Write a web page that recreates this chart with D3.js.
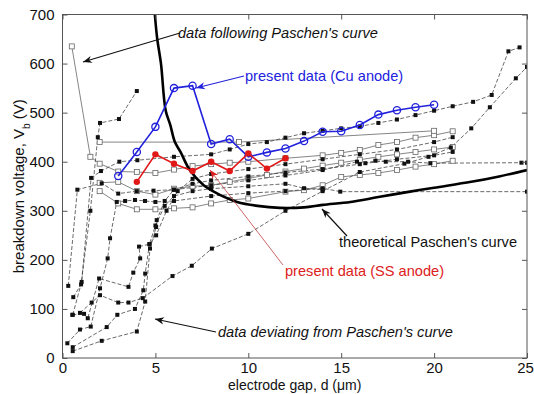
<!DOCTYPE html>
<html lang="en">
<head>
<meta charset="utf-8">
<title>Breakdown voltage</title>
<script src="https://cdn.jsdelivr.net/npm/d3@7/dist/d3.min.js"></script>
<style>
    body { margin: 0; background-color: #ffffff; }
    text { font-family: "Liberation Sans", Arial, sans-serif; }
</style>
</head>
<body>
<div id="chart_div"></div>
<script>
"use strict";

// present data, Cu anode
var cuGap = [3, 4, 5, 6, 7, 8, 9, 10, 11, 12, 13, 14, 15, 16, 17, 18, 19, 20];
var cuVolt = [371, 420, 471, 550, 555, 436, 446, 410, 419, 427, 442, 461, 462, 475, 496, 505, 511, 516];

// present data, SS anode
var ssGap = [4, 5, 6, 7, 8, 9, 10, 11, 12];
var ssVolt = [359, 415, 396, 381, 400, 381, 417, 386, 407];

// theoretical Paschen's curve
var paschGap = [4.97, 5.1, 5.3, 5.55, 5.8, 6.05, 6.35, 6.85, 7.6, 8.5, 9.4, 10.5, 11.7, 13.0, 14.0, 15.5, 17, 18.7, 20, 22, 23.5, 25];
var paschVolt = [700, 650, 600, 505, 475, 440, 420, 383, 352, 332, 318, 310, 306, 307, 312, 318, 328, 339, 347, 359, 370, 383];

// literature data, solid grey lines with open squares  [gap, voltage]
var lit1 = [[0.5,635],[1.5,410],[2,396],[3,380],[4,379],[5,377],[6,384],[7,391],[8,395],[9,398],[10,400],[12,407],[14,413],[15,418],[16,424],[17,434],[18,440],[19,449],[20,454],[21,462]];
var lit2 = [[2,440],[9.5,440],[20,463]];
var lit3 = [[2,340],[3,315],[4,303],[5,303],[6,305],[7,307],[8,315],[9,322],[10,325],[12,339],[13,342],[14,352],[15,369],[16,373],[17,377],[18,383],[19,390],[20,395],[21,402]];
var lit4 = [[2,357],[3,359],[4,340],[5,333],[6,345],[7,350],[8,352],[9,359],[10,366],[11,373],[12,380],[13,386],[14,392],[15,398],[16,404],[17,410],[18,415],[19,420],[20,425],[21,430]];

// literature data, dashed lines with filled squares
var lit5 = [[0.55,88],[1.03,155],[1.54,367],[2.07,381],[3.06,400],[4.03,403],[6,410],[8,415],[9,425],[10,436],[11,440],[12,449],[13,458],[14,463],[15,468],[16,472],[17,479],[18,486],[19,495],[20,504],[21,513],[22.1,522],[23.1,536],[24,625],[24.6,633]];
var lit6 = [[0.94,92],[1.57,113],[2.02,128],[3.0,113],[3.55,113],[4.32,122],[5.92,167],[6.96,188],[8.04,223],[10,253],[12,300],[14,340],[16,379],[18.4,396],[19.7,410],[20.9,429],[22,468],[23,511],[24.4,570],[25,593]];
var lit7 = [[0.31,147],[0.8,343],[2.11,356],[3.0,335],[4.0,340],[4.9,341],[6,343],[8,352],[10,362],[12,372],[14,383],[15.85,400],[16.3,397],[16.84,402],[17.4,400],[18.6,400],[19.8,397],[24.7,398],[25,398]];
var lit8 = [[0.26,30],[0.94,58],[1.52,64],[2.02,142],[2.43,203],[2.56,244],[2.92,318],[3.37,320],[3.9,322],[4.44,320],[5,318],[6,320],[8,330],[10,336],[12,340],[14,346],[14.95,339],[25,339]];
var lit9 = [[0.55,14],[2.11,35],[4.0,54],[4.45,115],[4.71,223],[5.04,267],[5.07,281],[5.5,320],[6,343],[7,355],[8,362],[10,370],[12,378],[14,385],[16,395],[18,405],[20,413],[21,420]];
var lit10 = [[0.55,22],[2.38,63],[2.95,88],[3.9,100],[4.35,138],[4.45,172],[4.68,232],[5.04,250],[5.6,300],[6.2,340],[7,365],[8,375],[10,385],[12,395],[14,405],[16,415],[18,425],[20,440],[21,450]];
var lit11 = [[0.53,88],[1.16,90],[1.36,81],[1.97,162],[3.55,145],[3.81,174],[4.18,203],[4.12,227],[4.68,232],[5.0,270],[5.5,310],[6,330],[7,340],[8,345],[10,350],[12,355],[13,346],[14,343]];
var lit12 = [[0.58,124],[1.0,150],[1.5,300],[1.9,450],[2.02,479],[3.04,487],[4.0,544]];

var solidSeries = [lit1, lit2, lit3, lit4];
var dashedSeries = [lit5, lit6, lit7, lit8, lit9, lit10, lit11, lit12];

var xTicks = [0, 5, 10, 15, 20, 25];
var yTicks = [0, 100, 200, 300, 400, 500, 600, 700];

var svg_width = 534;
var svg_height = 394;
var plotL = 62.5, plotR = 527, plotT = 14.5, plotB = 358;

var svg = d3.select("#chart_div")
    .append("svg")
    .attr("width", svg_width)
    .attr("height", svg_height);

var xscale = d3.scaleLinear().domain([0, 25]).range([plotL, plotR]);
var yscale = d3.scaleLinear().domain([0, 700]).range([plotB, plotT]);

svg.append("defs").append("clipPath")
    .attr("id", "plotclip")
    .append("rect")
    .attr("x", plotL).attr("y", plotT)
    .attr("width", plotR - plotL).attr("height", plotB - plotT);

function arrowHead(id, colour) {
    svg.select("defs").append("marker")
        .attr("id", id)
        .attr("viewBox", "0 0 10 10")
        .attr("refX", 10).attr("refY", 5)
        .attr("markerWidth", 13).attr("markerHeight", 9)
        .attr("markerUnits", "userSpaceOnUse")
        .attr("orient", "auto")
        .append("path")
        .attr("d", "M0,1 L10,5 L0,9 L3,5 Z")
        .attr("fill", colour);
}
arrowHead("arrBlack", "#111");
arrowHead("arrBlue", "#2222dd");
arrowHead("arrRed", "#dd2020");

var plot = svg.append("g").attr("clip-path", "url(#plotclip)");

var line = d3.line()
    .x(function(d) { return xscale(d[0]); })
    .y(function(d) { return yscale(d[1]); });

// literature, grey solid
solidSeries.forEach(function(s) {
    plot.append("path").datum(s)
        .attr("d", line)
        .attr("fill", "none")
        .attr("stroke", "#777")
        .attr("stroke-width", 0.9);
});
// literature, dashed
dashedSeries.forEach(function(s) {
    plot.append("path").datum(s)
        .attr("d", line)
        .attr("fill", "none")
        .attr("stroke", "#444")
        .attr("stroke-width", 0.8)
        .attr("stroke-dasharray", "4,2");
});
solidSeries.forEach(function(s) {
    plot.selectAll(null).data(s).enter()
        .append("rect")
        .attr("x", function(d) { return xscale(d[0]) - 2.5; })
        .attr("y", function(d) { return yscale(d[1]) - 2.5; })
        .attr("width", 5).attr("height", 5)
        .attr("fill", "#fff")
        .attr("stroke", "#666")
        .attr("stroke-width", 0.8);
});
dashedSeries.forEach(function(s) {
    plot.selectAll(null).data(s).enter()
        .append("rect")
        .attr("x", function(d) { return xscale(d[0]) - 2; })
        .attr("y", function(d) { return yscale(d[1]) - 2; })
        .attr("width", 4).attr("height", 4)
        .attr("fill", "#111");
});

// theoretical Paschen's curve
var pasch = paschGap.map(function(g, i) { return [g, paschVolt[i]]; });
var smooth = d3.line()
    .x(function(d) { return xscale(d[0]); })
    .y(function(d) { return yscale(d[1]); })
    .curve(d3.curveCatmullRom);
plot.append("path").datum(pasch)
    .attr("d", smooth)
    .attr("fill", "none")
    .attr("stroke", "#000")
    .attr("stroke-width", 2.6);

// present data
var cu = cuGap.map(function(g, i) { return [g, cuVolt[i]]; });
var ss = ssGap.map(function(g, i) { return [g, ssVolt[i]]; });

plot.append("path").datum(cu)
    .attr("d", line)
    .attr("fill", "none")
    .attr("stroke", "#2222dd")
    .attr("stroke-width", 1.6);
plot.selectAll(".cu").data(cu).enter()
    .append("circle")
    .attr("class", "cu")
    .attr("cx", function(d) { return xscale(d[0]); })
    .attr("cy", function(d) { return yscale(d[1]); })
    .attr("r", 3.6)
    .attr("fill", "none")
    .attr("stroke", "#2222dd")
    .attr("stroke-width", 1.3);

plot.append("path").datum(ss)
    .attr("d", line)
    .attr("fill", "none")
    .attr("stroke", "#e01818")
    .attr("stroke-width", 1.6);
plot.selectAll(".ss").data(ss).enter()
    .append("circle")
    .attr("class", "ss")
    .attr("cx", function(d) { return xscale(d[0]); })
    .attr("cy", function(d) { return yscale(d[1]); })
    .attr("r", 3.2)
    .attr("fill", "#e01818");

// axes box with inward ticks on all sides
svg.append("rect")
    .attr("x", plotL).attr("y", plotT)
    .attr("width", plotR - plotL).attr("height", plotB - plotT)
    .attr("fill", "none")
    .attr("stroke", "#555")
    .attr("stroke-width", 1);

var xaxis = d3.axisBottom(xscale).tickValues(xTicks).tickSizeInner(-5).tickSizeOuter(0).tickPadding(4);
var yaxis = d3.axisLeft(yscale).tickValues(yTicks).tickSizeInner(-5).tickSizeOuter(0).tickPadding(8);
var xtop = d3.axisTop(xscale).tickValues(xTicks).tickSizeInner(-5).tickSizeOuter(0).tickFormat("");
var yright = d3.axisRight(yscale).tickValues(yTicks).tickSizeInner(-5).tickSizeOuter(0).tickFormat("");

var gx = svg.append("g").attr("transform", "translate(0," + plotB + ")").call(xaxis);
var gy = svg.append("g").attr("transform", "translate(" + plotL + ",0)").call(yaxis);
var gt = svg.append("g").attr("transform", "translate(0," + plotT + ")").call(xtop);
var gr = svg.append("g").attr("transform", "translate(" + plotR + ",0)").call(yright);
[gx, gy, gt, gr].forEach(function(g) {
    g.select(".domain").remove();
    g.selectAll("line").attr("stroke", "#555");
    g.selectAll("text")
        .attr("fill", "#111")
        .style("font-size", "15px")
        .style("font-family", "'Liberation Sans', Arial, sans-serif");
});
// keep the last x label inside the window
gx.selectAll("text").filter(function(d) { return d === 25; }).attr("dx", "-2px");

// axis titles
svg.append("text")
    .attr("x", (plotL + plotR) / 2)
    .attr("y", 389.5)
    .attr("text-anchor", "middle")
    .style("font-size", "14px")
    .attr("fill", "#111")
    .text("electrode gap, d (\u03bcm)");

var ylab = svg.append("text")
    .attr("transform", "translate(24," + ((plotT + plotB) / 2) + ") rotate(-90)")
    .attr("text-anchor", "middle")
    .style("font-size", "15px")
    .attr("fill", "#111");
ylab.append("tspan").text("breakdown voltage, V");
ylab.append("tspan").attr("baseline-shift", "sub").style("font-size", "10px").text("b");
ylab.append("tspan").text(" (V)");

// annotations
function note(txt, x, y, colour, italic) {
    svg.append("text")
        .attr("x", x).attr("y", y)
        .attr("fill", colour)
        .style("font-size", "14.6px")
        .style("font-style", italic ? "italic" : "normal")
        .text(txt);
}
function arrow(x1, y1, x2, y2, colour, id, w) {
    svg.append("line")
        .attr("x1", x1).attr("y1", y1)
        .attr("x2", x2).attr("y2", y2)
        .attr("stroke", colour)
        .attr("stroke-width", w)
        .attr("marker-end", "url(#" + id + ")");
}

note("data following Paschen's curve", 178, 38, "#111", true);
arrow(180, 33, 83, 62, "#111", "arrBlack", 1.2);

note("present data (Cu anode)", 245, 81, "#2222dd", false);
arrow(244, 76, 196, 88, "#2222dd", "arrBlue", 1.2);

note("theoretical Paschen's curve", 339, 247, "#111", false);
arrow(347, 236, 322, 209, "#111", "arrBlack", 1.2);

note("present data (SS anode)", 285, 276, "#dd2020", false);
arrow(283, 265, 210, 170, "#c04040", "arrRed", 0.8);

note("data deviating from Paschen's curve", 218, 337, "#111", true);
arrow(216, 332, 155, 319, "#111", "arrBlack", 1.2);
</script>
</body>
</html>
